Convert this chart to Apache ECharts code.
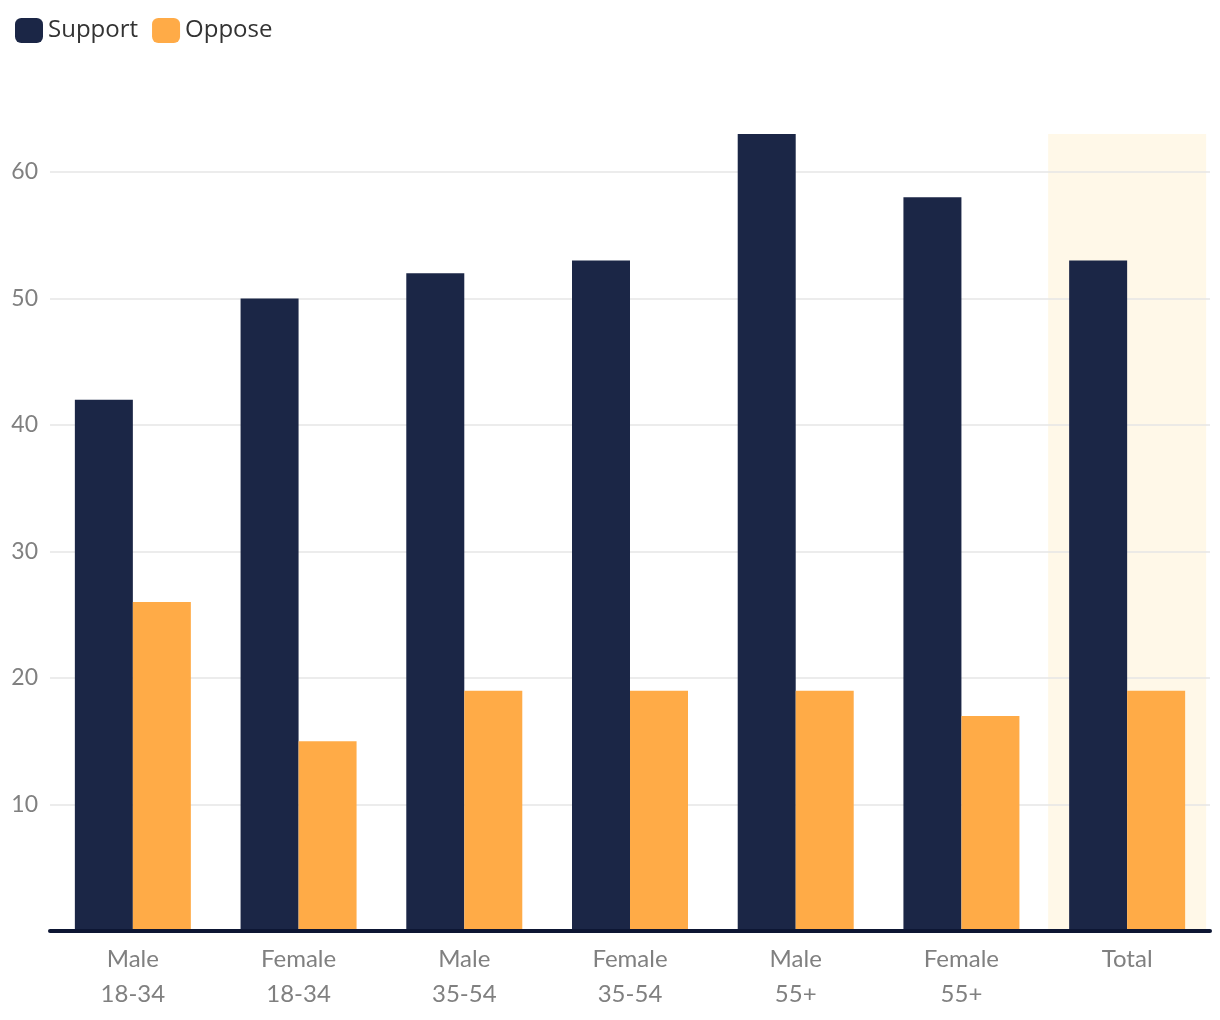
<!DOCTYPE html>
<html>
<head>
<meta charset="utf-8">
<script src="https://cdn.jsdelivr.net/npm/echarts@6/dist/echarts.min.js"></script>
<style>html,body{margin:0;padding:0;background:#fff}#c{width:1220px;height:1020px}</style>
</head>
<body>
<div id="c"></div>
<script>
const categories = ['Male\n18-34', 'Female\n18-34', 'Male\n35-54', 'Female\n35-54', 'Male\n55+', 'Female\n55+', 'Total'];
const support = [42, 50, 52, 53, 63, 58, 53];
const oppose = [26, 15, 19, 19, 19, 17, 19];
const highlight = [null, null, null, null, null, null, 63];
const yTicks = [10, 20, 30, 40, 50, 60];

const chart = echarts.init(document.getElementById('c'));
chart.setOption({
  animation: false,
  legend: {
    data: ['Support', 'Oppose'],
    left: 10, top: 13,
    itemWidth: 28, itemHeight: 25, itemGap: 14,
    icon: 'roundRect',
    textStyle: { fontFamily: 'Open Sans', fontSize: 24, color: '#333' }
  },
  grid: { left: 50, right: 10, top: 134, bottom: 89 },
  xAxis: [{
    type: 'category', data: categories, z: 3,
    axisLine: { lineStyle: { color: '#0d1633', width: 4 } },
    axisTick: { show: false },
    axisLabel: { fontFamily: 'Lato', fontSize: 24, color: '#808080', lineHeight: 35, margin: 11 }
  }, {
    type: 'category', data: categories, show: false
  }],
  yAxis: {
    type: 'value', min: 0, max: 63, interval: 10,
    axisLine: { show: false }, axisTick: { show: false },
    splitLine: { show: false },
    axisLabel: { fontFamily: 'Lato', fontSize: 23, color: '#808080', margin: 12, showMinLabel: false,
      formatter: v => yTicks.includes(v) ? String(v) : '' }
  },
  series: [
    { name: 'band', type: 'bar', xAxisIndex: 1, data: highlight, barWidth: 158, silent: true, z: 0,
      itemStyle: { color: '#fff8e8' },
      markLine: { silent: true, z: 1, symbol: 'none', label: { show: false },
        lineStyle: { color: '#e6e6e6', width: 1.5, type: 'solid' },
        data: yTicks.map(v => ({ yAxis: v })) } },
    { name: 'Support', type: 'bar', data: support, barGap: 0, barCategoryGap: '30%', z: 2,
      itemStyle: { color: '#1b2646' } },
    { name: 'Oppose', type: 'bar', data: oppose, z: 2,
      itemStyle: { color: '#ffab47' } }
  ]
});
</script>
</body>
</html>
